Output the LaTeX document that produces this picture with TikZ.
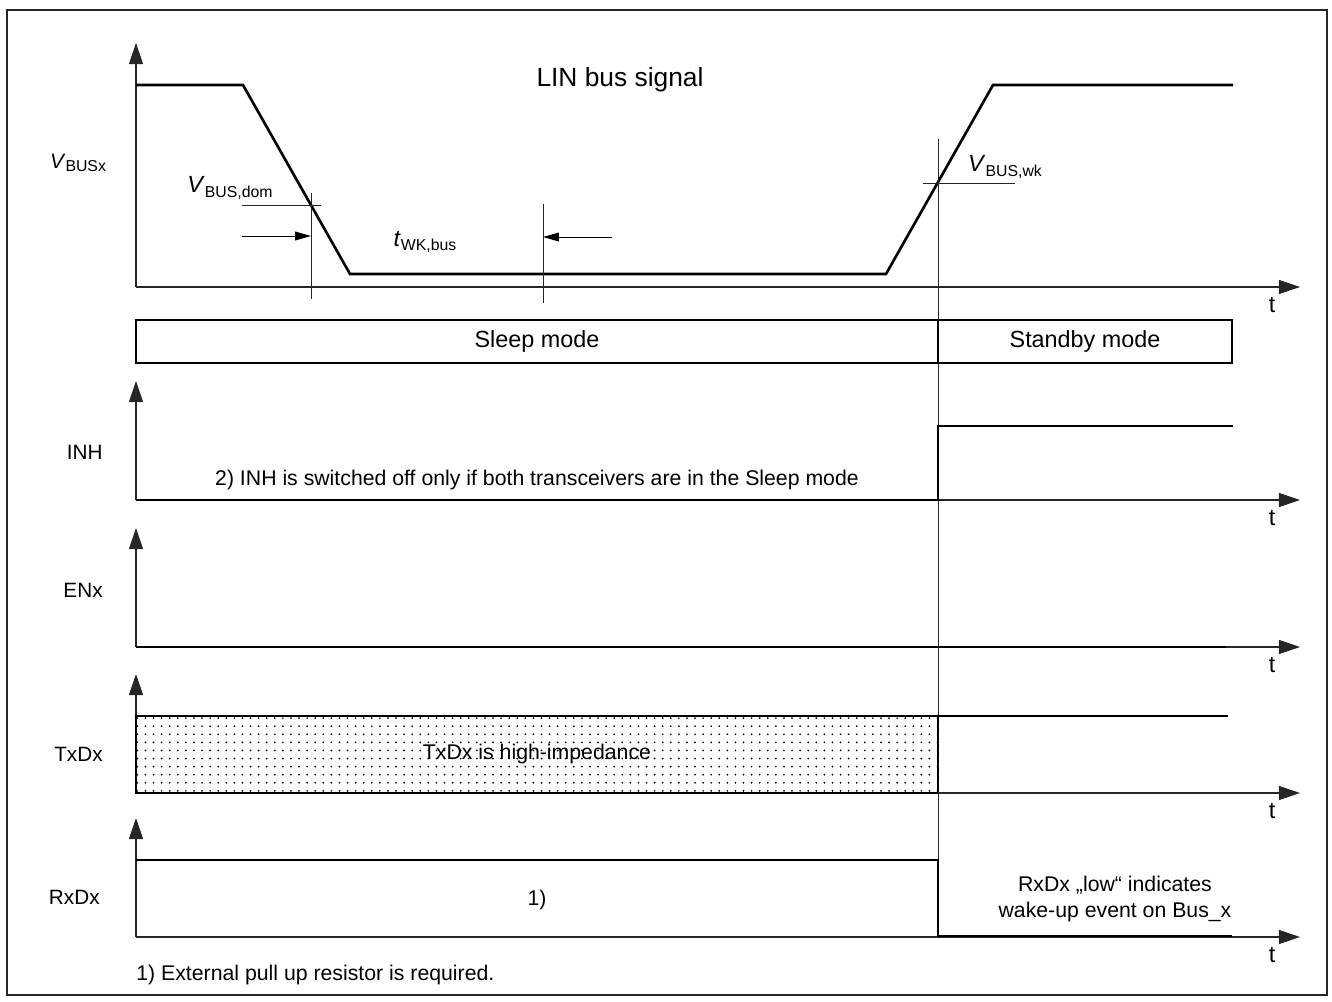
\documentclass[tikz,border=0pt]{standalone}
\usepackage{fontspec}
\setmainfont{Liberation Sans}
\usetikzlibrary{arrows.meta,patterns}
\pgfdeclarepatternformonly{sparsedots}{\pgfqpoint{-1pt}{-1pt}}{\pgfqpoint{1pt}{1pt}}{\pgfqpoint{4.6pt}{4.6pt}}{\pgfpathcircle{\pgfqpoint{0pt}{0pt}}{.55pt}\pgfusepath{fill}}
\newcommand{\sigsub}[2]{\textit{#1}\raisebox{-.35ex}{\fontsize{9}{10}\selectfont #2}}
\tikzset{
  axis/.style={black!85, line width=.6pt, -{Triangle[length=12pt,width=8pt]}},
  wave/.style={black, line width=1.5pt, line join=miter},
  markline/.style={black!85, line width=.5pt},
  dimarrow/.style={black, line width=.5pt, -{Triangle[length=9pt,width=5pt]}},
  txt/.style={font=\fontsize{12.1}{15}\selectfont, inner sep=0pt},
  modetxt/.style={font=\fontsize{13.3}{16}\selectfont, inner sep=0pt},
  siglabel/.style={font=\fontsize{11.8}{14}\selectfont, inner sep=0pt},
}
\begin{document}
\begin{tikzpicture}[x=0.02cm,y=-0.02cm]
    \useasboundingbox (0,0) rectangle (1332,1001);
    \draw[black!85, line width=.6pt] (7,10) rectangle (1327,995);

    % axes
    \coordinate (bustop) at (136,43);
    \coordinate (bus0) at (136,287);
    \coordinate (busend) at (1300,287);
    \draw[axis] (bus0) -- (bustop);
    \draw[axis] (bus0) -- (busend);
    \node[modetxt] (tbus) at (1272,305) {t};
    \foreach \sname/\y in {inh/500, en/647, tx/793, rx/937} {
      \coordinate (\sname0) at (136,\y);
      \coordinate (\sname top) at (136,\y-119);
      \coordinate (\sname end) at (1300,\y);
      \draw[axis] (\sname0) -- (\sname top);
      \draw[axis] (\sname0) -- (\sname end);
      \node[modetxt] (t\sname) at (1272,\y+18) {t};
    }

    % signal names
    \node[siglabel] (vbusx) at (78,163) {\sigsub{V}{BUSx}};
    \node[siglabel, anchor=east] (inh) at (103,452) {INH};
    \node[siglabel, anchor=east] (enx) at (103,590) {ENx};
    \node[siglabel, anchor=east] (txdx) at (103,754) {TxDx};
    \node[siglabel, anchor=east] (rxdx) at (100,897) {RxDx};

    % LIN bus
    \node[txt, font=\fontsize{15}{18}\selectfont] (title) at (620,80) {LIN bus signal};
    \draw[wave] (136,85) -- (243,85) -- (350,274) -- (886,274) -- (993,85) -- (1233,85);

    \coordinate (domx) at (311,205);
    \coordinate (wkbus) at (543,237);
    \draw[markline] (311,193) -- (311,299);
    \draw[markline] (242,205) -- (321,205);
    \draw[markline] (543,204) -- (543,303);
    \draw[dimarrow] (242,236) -- (domx |- 0,236);
    \draw[dimarrow] (612,237) -- (wkbus);
    \node[modetxt] (vdom) at (230,188) {\sigsub{V}{BUS,dom}};
    \node[modetxt] (twk) at (425,242) {\sigsub{t}{WK,bus}};

    \coordinate (wktop) at (938,139);
    \coordinate (wkbot) at (938,860);
    \draw[markline] (wktop) -- (wkbot);
    \draw[markline] (923,183) -- (1015,183);
    \node[modetxt] (vwk) at (1005,167) {\sigsub{V}{BUS,wk}};

    % modes
    \draw[line width=1.1pt] (136,320) rectangle (1232,363);
    \draw[line width=1.1pt] (938,320) -- (938,363);
    \node[modetxt] (sleep) at (537,341) {Sleep mode};
    \node[modetxt] (standby) at (1085,341) {Standby mode};

    % INH
    \draw[wave] (136,500) -- (938,500) -- (938,426) -- (1233,426);
    \node[txt] (inhnote) at (537,480) {2) INH is switched off only if both transceivers are in the Sleep mode};

    % ENx
    \draw[wave] (136,647) -- (1226,647);

    % TxDx
    \fill[pattern=sparsedots, pattern color=black] (136,716) rectangle (938,793);
    \draw[line width=1.3pt] (136,716) rectangle (938,793);
    \draw[wave] (938,716) -- (1228,716);
    \node[txt] (hiz) at (537,754) {TxDx is high-impedance};

    % RxDx
    \draw[wave] (136,860) -- (938,860) -- (938,936) -- (1232,936);
    \node[txt] (note1) at (537,900) {1)};
    \node[txt, align=center] (wake) at (1115,899) {RxDx „low“ indicates\\wake-up event on Bus\_x};
    \node[txt, anchor=west] (foot) at (136,975) {1) External pull up resistor is required.};
\end{tikzpicture}
\end{document}
